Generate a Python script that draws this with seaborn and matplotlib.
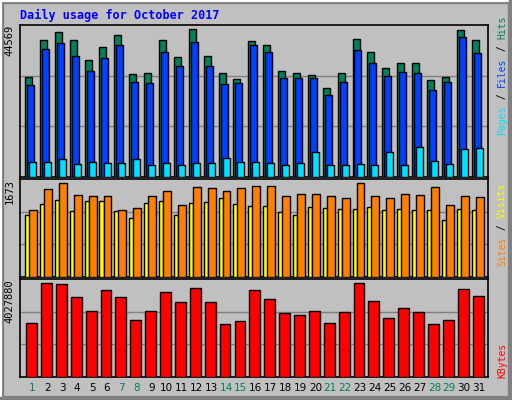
import numpy as np
import matplotlib
matplotlib.use("Agg")
from matplotlib import pyplot as plt
from matplotlib.patches import Rectangle
import seaborn as sns

days = list(range(1, 32))
weekend = [1, 7, 8, 14, 15, 21, 22, 28, 29]

hits = [29200, 40100, 42500, 40100, 34200, 38100, 41600, 30100, 30400, 40100, 35100,
        43400, 35400, 30400, 28600, 39900, 38700, 31000, 30400, 29800, 26000, 30400,
        40400, 36600, 31900, 33400, 33400, 28300, 29200, 43100, 40100]
files = [26900, 37500, 39300, 35400, 31000, 34800, 38700, 28000, 27700, 36600, 32500,
         39600, 32500, 27200, 27500, 38700, 36600, 28900, 28900, 28900, 23900, 28000,
         37200, 33400, 29500, 30700, 30400, 25400, 28000, 41000, 36300]
pages = [4430, 4430, 5310, 3840, 4430, 4130, 4130, 5310, 3540, 4130, 3540, 4130, 4130,
         5610, 4430, 4430, 4130, 3540, 4130, 7380, 3540, 3540, 3840, 3540, 7380, 3540,
         8860, 4720, 3840, 8270, 8560]
visits = [1139, 1501, 1604, 1397, 1380, 1380, 1139, 1173, 1380, 1466, 1225, 1535, 1518,
          1466, 1518, 1553, 1553, 1380, 1415, 1415, 1380, 1346, 1604, 1380, 1346, 1415,
          1397, 1535, 1225, 1380, 1363]
sites = [1052, 1242, 1311, 1121, 1294, 1294, 1121, 1001, 1259, 1294, 1052, 1259, 1277,
         1346, 1242, 1208, 1208, 1104, 1052, 1190, 1173, 1156, 1156, 1190, 1139, 1156,
         1139, 1139, 966, 1156, 1139]
kbytes = [2223700, 3860000, 3818100, 3272600, 2727200, 3566300, 3272600, 2349600,
          2727200, 3482400, 3062900, 3650300, 3062900, 2181800, 2307600, 3566300,
          3188700, 2643300, 2559400, 2727200, 2223700, 2685200, 3860000, 3104800,
          2433500, 2853100, 2685200, 2181800, 2349600, 3608300, 3314600]
max_hits, max_visits, max_kb = 44569, 1673, 4027880

sns.set_style("white")
plt.rcParams["font.family"] = ["DejaVu Sans"]
MONO = "DejaVu Sans Mono"
BG = "#C0C0C0"

W, H = 512, 400
fig = plt.figure(figsize=(W / 100, H / 100), dpi=100, facecolor=BG)

def px_axes(top, bottom):
    return fig.add_axes([20 / W, 1 - bottom / H, 468 / W, (bottom - top) / H])

x = np.arange(len(days))
edge = dict(edgecolor="black", linewidth=1, align="edge", zorder=3)

def style(ax, ymax, label):
    ax.set_facecolor(BG)
    ax.set_xlim(-0.84, 30.6)
    ax.set_ylim(0, ymax)
    for f in (1 / 3, 2 / 3):
        ax.axhline(ymax * f, color="#808080", linewidth=1, zorder=1)
    ax.set_xticks([])
    ax.set_yticks([])
    for s in ax.spines.values():
        s.set_color("black")
        s.set_linewidth(1.2)
    ax.text(-0.012, 1.0, label, transform=ax.transAxes, rotation=90, ha="right",
            va="top", family=MONO, fontsize=7.5, color="black")

ax1 = px_axes(25, 177)
ax1.bar(x - 0.5, hits, width=0.47, color="#00805C", **edge)
ax1.bar(x - 0.37, files, width=0.47, color="#0040FF", **edge)
ax1.bar(x - 0.23, pages, width=0.47, color="#00E0FF", **edge)
style(ax1, max_hits, "44569")

ax2 = px_axes(179, 277)
ax2.bar(x - 0.5, sites, width=0.3, color="#FFFF00", **edge)
ax2.bar(x - 0.23, visits, width=0.53, color="#FF8000", **edge)
style(ax2, max_visits, "1673")

ax3 = px_axes(279, 377)
ax3.bar(x - 0.43, kbytes, width=0.73, color="#FF0000", **edge)
style(ax3, max_kb, "4027880")

for i, d in enumerate(days):
    ax3.text(i, -0.06, str(d), transform=ax3.get_xaxis_transform(), ha="center",
             va="top", fontsize=7.5, color="#00805C" if d in weekend else "black")

fig.text(20 / W, 1 - 15 / H, "Daily usage for October 2017", family=MONO,
         fontweight="bold", fontsize=8.5, color="#0000FF", va="center")

def right_label(parts, y_bottom):
    y = y_bottom
    for txt, col in parts:
        t = fig.text(502 / W, 1 - y / H, txt, rotation=90, family=MONO, fontsize=7,
                     color=col, ha="center", va="bottom")
        y -= len(txt) * 6.0

right_label([("Pages", "#00E0FF"), (" / ", "black"), ("Files", "#0040FF"),
             (" / ", "black"), ("Hits", "#00805C")], 135)
right_label([("Sites", "#FF8000"), (" / ", "black"), ("Visits", "#FFFF00")], 266)
right_label([("KBytes", "#FF0000")], 378)

# bevelled border
fig.add_artist(Rectangle((0, 0), 1, 1, transform=fig.transFigure, fill=False,
                         edgecolor="#808080", linewidth=6))
fig.add_artist(plt.Line2D([1 / W, 1 / W], [4 / H, 1], color="white", linewidth=1.5))
fig.add_artist(plt.Line2D([0, 508 / W], [1 - 1 / H, 1 - 1 / H], color="white", linewidth=1.5))

fig.savefig("out.png", dpi=100, facecolor=BG)
